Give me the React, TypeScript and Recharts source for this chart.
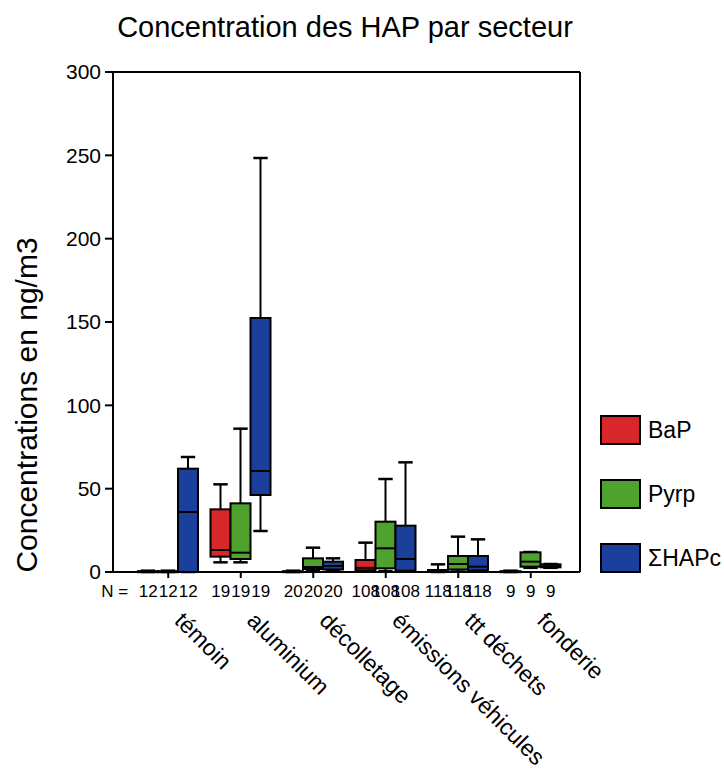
import { BarChart, Bar, XAxis, YAxis, Legend, ReferenceLine, CartesianGrid } from "recharts";

const sectors = ["témoin", "aluminium", "décolletage", "émissions véhicules", "ttt déchets", "fonderie"];
const counts = [12, 19, 20, 108, 118, 9];

// box stats per sector: [min, q1, median, q3, max]
const bapStats = [
  [0, 0, 0, 0.5, 0.8],
  [5.8, 9.2, 13.2, 37.6, 52.6],
  [0, 0, 0, 0.5, 0.8],
  [0.5, 1, 2.5, 7.2, 17.6],
  [0, 0.3, 0.6, 1.2, 4.6],
  [0, 0, 0, 0.5, 0.8],
];
const pyrpStats = [
  [0, 0, 0, 0.5, 0.8],
  [5.8, 7.8, 11.6, 41.2, 86],
  [0.5, 1.8, 3, 8.2, 14.6],
  [0.5, 2.2, 14.2, 30.2, 55.8],
  [0.3, 1.5, 4.8, 9.6, 21.2],
  [2.5, 3.2, 6.2, 11.8, 12],
];
const hapStats = [
  [0, 0, 36, 62, 69],
  [24.6, 46.2, 60.6, 152.4, 248.4],
  [0.5, 1.5, 3.6, 6.2, 8.2],
  [0.3, 0.8, 7.8, 27.8, 65.8],
  [0.3, 1, 3.2, 9.6, 19.6],
  [2.5, 2.8, 3.5, 4.6, 4.8],
];

const yTicks = [0, 50, 100, 150, 200, 250, 300];

const series = [
  { key: "bap", name: "BaP", color: "#d9262b", stats: bapStats },
  { key: "pyrp", name: "Pyrp", color: "#4fa22d", stats: pyrpStats },
  { key: "hap", name: "ΣHAPc", color: "#1b409c", stats: hapStats },
];

const data = sectors.map((name, i) => {
  const row: any = { name, n: counts[i] };
  series.forEach((s) => {
    row[s.key] = s.stats[i];
  });
  return row;
});

const FONT = "'Liberation Sans', Arial, Helvetica, sans-serif";

const BoxShape = (props: any) => {
  const { x, y, width, height, payload, fill, skey } = props;
  const [min, q1, med, q3, max] = payload[skey];
  // linear map inside the [min, max] range bar given by the y scale
  const py = (v: number) => y + (height * (max - v)) / (max - min);
  const cx = x + width / 2;
  const cap = width * 0.36;
  const top = py(q3);
  const boxH = Math.max(py(q1) - top, 1);
  return (
    <g>
      <line x1={cx} x2={cx} y1={py(max)} y2={top} stroke="#000" strokeWidth={2} />
      <line x1={cx} x2={cx} y1={py(q1)} y2={py(min)} stroke="#000" strokeWidth={2} />
      <line x1={cx - cap} x2={cx + cap} y1={py(max)} y2={py(max)} stroke="#000" strokeWidth={2.5} />
      <line x1={cx - cap} x2={cx + cap} y1={py(min)} y2={py(min)} stroke="#000" strokeWidth={2.5} />
      <rect x={x} y={top} width={width} height={boxH} fill={fill} stroke="#000" strokeWidth={2} />
      <line x1={x} x2={x + width} y1={py(med)} y2={py(med)} stroke="#000" strokeWidth={2} />
    </g>
  );
};

const SectorTick = (props: any) => {
  const { x, y, payload } = props;
  const i = payload.index;
  const n = counts[i];
  return (
    <g>
      {i === 0 && (
        <text x={x - 40} y={y + 17} textAnchor="end" fontSize={17} fill="#000">
          N =
        </text>
      )}
      {[-20, 0, 20].map((dx) => (
        <text key={dx} x={x + dx} y={y + 17} textAnchor="middle" fontSize={17} fill="#000">
          {n}
        </text>
      ))}
      <text transform={`translate(${x + 5},${y + 42}) rotate(45)`} fontSize={23} fill="#000">
        {payload.value}
      </text>
    </g>
  );
};

const YLabel = () => (
  <text transform="translate(37,405) rotate(-90)" textAnchor="middle" fontSize={30} fill="#000">
    Concentrations en ng/m3
  </text>
);

const renderLegend = () => (
  <div style={{ display: "flex", flexDirection: "column", fontFamily: FONT }}>
    {series.map((s) => (
      <div key={s.key} style={{ display: "flex", alignItems: "center", height: 30, marginBottom: 34 }}>
        <span style={{ width: 37, height: 26, background: s.color, border: "2px solid #000" }} />
        <span style={{ marginLeft: 7, fontSize: 23, color: "#000" }}>{s.name}</span>
      </div>
    ))}
  </div>
);

export default function App() {
  return (
    <div style={{ position: "absolute", left: 0, top: 0, width: 724, height: 775, background: "#fff", fontFamily: FONT }}>
      <div
        style={{
          position: "absolute",
          left: 0,
          top: 13,
          width: 690,
          textAlign: "center",
          fontSize: 29,
          lineHeight: "29px",
          color: "#000",
        }}
      >
        Concentration des HAP par secteur
      </div>
      <BarChart
        width={724}
        height={775}
        data={data}
        margin={{ top: 72, right: 144, bottom: 23, left: 0 }}
        barSize={20}
        barGap={0}
        style={{ position: "absolute", left: 0, top: 0, fontFamily: FONT }}
      >
        <CartesianGrid
          horizontal={false}
          stroke="#000"
          strokeWidth={2}
          verticalCoordinatesGenerator={(p: any) => [p.offset.left + p.offset.width]}
        />
        <XAxis
          dataKey="name"
          interval={0}
          height={180}
          padding={{ left: 19, right: 13 }}
          tickSize={6}
          tickLine={{ stroke: "#000", strokeWidth: 2 }}
          axisLine={{ stroke: "#000", strokeWidth: 2 }}
          tick={<SectorTick />}
        />
        <YAxis
          domain={[0, 300]}
          ticks={yTicks}
          interval={0}
          width={113}
          tickSize={8}
          tickMargin={4}
          tickLine={{ stroke: "#000", strokeWidth: 2 }}
          axisLine={{ stroke: "#000", strokeWidth: 2 }}
          tick={{ fill: "#000", fontSize: 21 }}
          label={{ content: () => <YLabel /> }}
        />
        <ReferenceLine y={300} stroke="#000" strokeWidth={2} />
        <Legend
          layout="vertical"
          align="center"
          verticalAlign="middle"
          content={renderLegend}
          wrapperStyle={{ left: 600, top: 415, width: 124 }}
        />
        {series.map((s) => (
          <Bar
            key={s.key}
            name={s.name}
            dataKey={(d: any) => [d[s.key][0], d[s.key][4]]}
            fill={s.color}
            isAnimationActive={false}
            shape={(p: any) => <BoxShape {...p} skey={s.key} />}
          />
        ))}
      </BarChart>
    </div>
  );
}
